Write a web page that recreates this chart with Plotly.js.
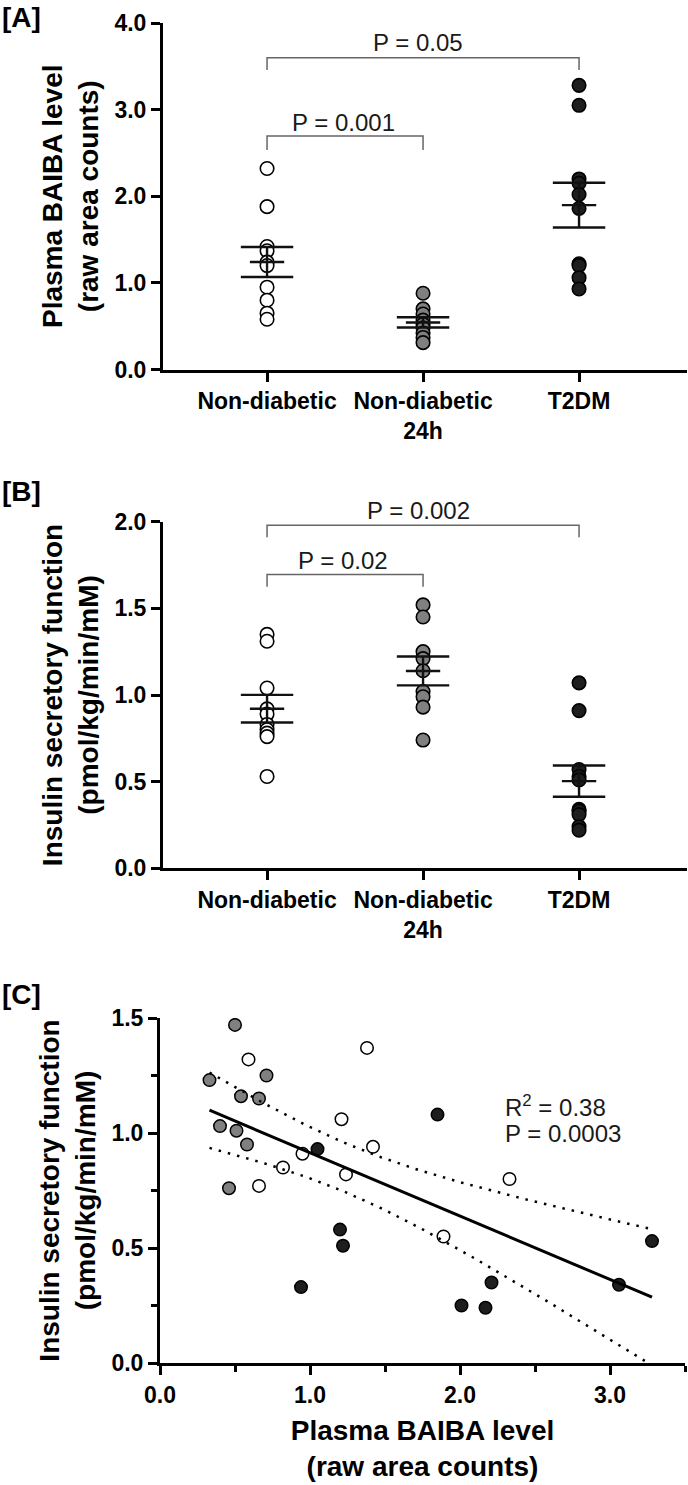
<!DOCTYPE html>
<html><head><meta charset="utf-8">
<script src="https://cdn.plot.ly/plotly-3.0.1.min.js"></script>
<style>html,body{margin:0;padding:0;background:#fff}</style>
</head><body><div id="chart" style="width:688px;height:1485px"></div>
<script>
// ---------- data ----------
const categories = ["Non-diabetic", "Non-diabetic<br>24h", "T2DM"];
const groupColors = ["#ffffff", "#808080", "#1e1e1e"];

// Panel A: Plasma BAIBA level (raw area counts)
const baibaNonDiabetic    = [2.32, 1.88, 1.42, 1.37, 1.24, 1.20, 0.95, 0.80, 0.65, 0.58];
const baibaNonDiabetic24h = [0.88, 0.70, 0.64, 0.57, 0.52, 0.48, 0.42, 0.37, 0.31];
const baibaT2DM           = [3.28, 3.05, 2.20, 2.15, 2.02, 1.86, 1.22, 1.20, 1.06, 0.93];

// Panel B: Insulin secretory function (pmol/kg/min/mM)
const isfNonDiabetic    = [1.35, 1.31, 1.04, 0.92, 0.89, 0.83, 0.80, 0.78, 0.76, 0.53];
const isfNonDiabetic24h = [1.52, 1.45, 1.25, 1.21, 1.14, 1.02, 0.99, 0.93, 0.74];
const isfT2DM           = [1.07, 0.91, 0.57, 0.53, 0.51, 0.34, 0.33, 0.31, 0.24, 0.22];

// Panel C: BAIBA (x) vs insulin secretory function (y)
const corrXNonDiabetic    = [0.59, 1.38, 1.21, 1.42, 0.95, 0.82, 1.24, 0.66, 2.33, 1.89];
const corrYNonDiabetic    = [1.32, 1.37, 1.06, 0.94, 0.91, 0.85, 0.82, 0.77, 0.80, 0.55];
const corrXNonDiabetic24h = [0.50, 0.33, 0.71, 0.54, 0.66, 0.40, 0.51, 0.58, 0.46];
const corrYNonDiabetic24h = [1.47, 1.23, 1.25, 1.16, 1.15, 1.03, 1.01, 0.95, 0.76];
const corrXT2DM           = [1.85, 1.05, 1.20, 1.22, 0.94, 3.28, 3.06, 2.21, 2.01, 2.17];
const corrYT2DM           = [1.08, 0.93, 0.58, 0.51, 0.33, 0.53, 0.34, 0.35, 0.25, 0.24];

const pLabelsA = ["P = 0.001", "P = 0.05"];
const pLabelsB = ["P = 0.02", "P = 0.002"];
const statLabelsC = ["R<sup>2</sup> = 0.38", "P = 0.0003"];
const panelLabels = ["[A]", "[B]", "[C]"];
const titleA = "Plasma BAIBA level<br>(raw area counts)";
const titleB = "Insulin secretory function<br>(pmol/kg/min/mM)";

// ---------- helpers ----------
const mean = a => a.reduce((s, v) => s + v, 0) / a.length;
const sem = a => { const m = mean(a); return Math.sqrt(a.reduce((s, v) => s + (v - m) ** 2, 0) / (a.length - 1)) / Math.sqrt(a.length); };

const tickFont = {family: "Liberation Sans, Arial", size: 23, weight: "bold", color: "#000"};
const titleFont = {family: "Liberation Sans, Arial", size: 28, weight: "bold", color: "#000"};
const pFont = {family: "Liberation Sans, Arial", size: 24, color: "#1a1a1a"};

const traces = [];
function groupPanel(groups, xa, ya) {
  groups.forEach((vals, i) => {
    traces.push({type: "scatter", mode: "markers", xaxis: xa, yaxis: ya,
      x: vals.map(() => i), y: vals,
      marker: {size: 13.5, color: groupColors[i], line: {color: "#000", width: 1.6}},
      hoverinfo: "y"});
  });
  groups.forEach((vals, i) => {
    const m = mean(vals), s = sem(vals), w = 0.168, wm = 0.11;
    traces.push({type: "scatter", mode: "lines", xaxis: xa, yaxis: ya,
      x: [i - w, i + w, null, i - wm, i + wm, null, i - w, i + w, null, i, i],
      y: [m + s, m + s, null, m, m, null, m - s, m - s, null, m - s, m + s],
      line: {color: "#111", width: 2.4}, hoverinfo: "skip"});
  });
}
groupPanel([baibaNonDiabetic, baibaNonDiabetic24h, baibaT2DM], "x", "y");
groupPanel([isfNonDiabetic, isfNonDiabetic24h, isfT2DM], "x2", "y2");

// Panel C scatter
[[corrXNonDiabetic, corrYNonDiabetic], [corrXNonDiabetic24h, corrYNonDiabetic24h], [corrXT2DM, corrYT2DM]]
  .forEach((p, i) => {
    traces.push({type: "scatter", mode: "markers", xaxis: "x3", yaxis: "y3",
      x: p[0], y: p[1],
      marker: {size: 12.5, color: groupColors[i], line: {color: "#000", width: 1.5}}});
  });

// linear regression with 95% confidence band
const allX = corrXNonDiabetic.concat(corrXNonDiabetic24h, corrXT2DM);
const allY = corrYNonDiabetic.concat(corrYNonDiabetic24h, corrYT2DM);
const n = allX.length, xbar = mean(allX), ybar = mean(allY);
let sxx = 0, sxy = 0;
for (let k = 0; k < n; k++) { sxx += (allX[k] - xbar) ** 2; sxy += (allX[k] - xbar) * (allY[k] - ybar); }
const slope = sxy / sxx, icpt = ybar - slope * xbar;
let sse = 0;
for (let k = 0; k < n; k++) sse += (allY[k] - (icpt + slope * allX[k])) ** 2;
const sRes = Math.sqrt(sse / (n - 2)), tCrit = 2.052;
const xmin = Math.min(...allX), xmax = Math.max(...allX);
const fx = [], fy = [], up = [], lo = [];
for (let k = 0; k <= 80; k++) {
  const xv = xmin + (xmax - xmin) * k / 80, yv = icpt + slope * xv;
  const h = tCrit * sRes * Math.sqrt(1 / n + (xv - xbar) ** 2 / sxx);
  fx.push(xv); fy.push(yv); up.push(yv + h); lo.push(yv - h);
}
traces.push({type: "scatter", mode: "lines", xaxis: "x3", yaxis: "y3", x: fx, y: up,
  line: {color: "#000", width: 2.5, dash: "2.5px,7px"}, hoverinfo: "skip"});
traces.push({type: "scatter", mode: "lines", xaxis: "x3", yaxis: "y3", x: fx, y: lo,
  line: {color: "#000", width: 2.5, dash: "2.5px,7px"}, hoverinfo: "skip"});
traces.push({type: "scatter", mode: "lines", xaxis: "x3", yaxis: "y3", x: [fx[0], fx[80]], y: [fy[0], fy[80]],
  line: {color: "#000", width: 3}, hoverinfo: "skip"});

// ---------- layout ----------
const H = 1485, W = 688;
const py = p => 1 - p / H;
const baseAxis = {showline: true, linecolor: "#000", linewidth: 3, ticks: "outside", ticklen: 9, tickwidth: 3,
  tickcolor: "#000", showgrid: false, zeroline: false, tickfont: tickFont, fixedrange: true};
const catAxis = Object.assign({}, baseAxis, {range: [-0.667, 2.692], tickvals: [0, 1, 2], ticktext: categories,
  domain: [163 / W, 687 / W]});

const layout = {
  width: W, height: H, margin: {l: 0, r: 0, t: 0, b: 0}, showlegend: false,
  paper_bgcolor: "#fff", plot_bgcolor: "#fff",
  xaxis: Object.assign({}, catAxis, {anchor: "y"}),
  yaxis: Object.assign({}, baseAxis, {anchor: "x", range: [0, 4], dtick: 1, tickformat: ".1f",
    domain: [py(369.5), py(23)], title: {text: titleA, font: titleFont, standoff: 8}}),
  xaxis2: Object.assign({}, catAxis, {anchor: "y2"}),
  yaxis2: Object.assign({}, baseAxis, {anchor: "x2", range: [0, 2], dtick: 0.5, tickformat: ".1f",
    domain: [py(868.3), py(521.7)], title: {text: titleB, font: titleFont, standoff: 8}}),
  xaxis3: Object.assign({}, baseAxis, {anchor: "y3", range: [0, 3.5], dtick: 1, tickformat: ".1f",
    domain: [160 / W, 685 / W], minor: {dtick: 0.5, ticks: "outside", ticklen: 6, tickwidth: 3, tickcolor: "#000"},
    title: {text: titleA, font: titleFont, standoff: 14}}),
  yaxis3: Object.assign({}, baseAxis, {anchor: "x3", range: [0, 1.5], dtick: 0.5, tickformat: ".1f",
    domain: [py(1363), py(1018)], minor: {dtick: 0.25, ticks: "outside", ticklen: 6, tickwidth: 3, tickcolor: "#000"},
    title: {text: titleB, font: titleFont, standoff: 8}}),
  shapes: [
    {type: "path", xref: "x", yref: "y", path: "M 0,2.535 L 0,2.696 L 1,2.696 L 1,2.535", line: {color: "#666", width: 1.5}},
    {type: "path", xref: "x", yref: "y", path: "M 0,3.458 L 0,3.600 L 2,3.600 L 2,3.458", line: {color: "#666", width: 1.5}},
    {type: "path", xref: "x2", yref: "y2", path: "M 0,1.625 L 0,1.696 L 1,1.696 L 1,1.625", line: {color: "#666", width: 1.5}},
    {type: "path", xref: "x2", yref: "y2", path: "M 0,1.910 L 0,1.979 L 2,1.979 L 2,1.910", line: {color: "#666", width: 1.5}}
  ],
  annotations: [
    {text: pLabelsA[0], xref: "x", yref: "y", x: 0.49, y: 2.846, showarrow: false, font: pFont},
    {text: pLabelsA[1], xref: "x", yref: "y", x: 0.97, y: 3.776, showarrow: false, font: pFont},
    {text: pLabelsB[0], xref: "x2", yref: "y2", x: 0.49, y: 1.776, showarrow: false, font: pFont},
    {text: pLabelsB[1], xref: "x2", yref: "paper", x: 0.97, y: py(510.5), showarrow: false, font: pFont},
    {text: statLabelsC[0], xref: "x3", yref: "y3", x: 2.287, y: 1.117, xanchor: "left", showarrow: false, font: pFont},
    {text: statLabelsC[1], xref: "x3", yref: "y3", x: 2.287, y: 0.996, xanchor: "left", showarrow: false, font: pFont},
    {text: panelLabels[0], xref: "paper", yref: "paper", x: 0, y: py(17.5), xanchor: "left", yanchor: "middle", showarrow: false, font: titleFont},
    {text: panelLabels[1], xref: "paper", yref: "paper", x: 0, y: py(491), xanchor: "left", yanchor: "middle", showarrow: false, font: titleFont},
    {text: panelLabels[2], xref: "paper", yref: "paper", x: 0, y: py(995), xanchor: "left", yanchor: "middle", showarrow: false, font: titleFont}
  ]
};

Plotly.newPlot("chart", traces, layout, {staticPlot: true, displayModeBar: false}).then(gd => {
  // drop the empty placeholder title nodes of the untitled category axes
  gd.querySelectorAll("text").forEach(t => { if (!t.textContent.trim()) t.remove(); });
});
</script>
</body></html>
